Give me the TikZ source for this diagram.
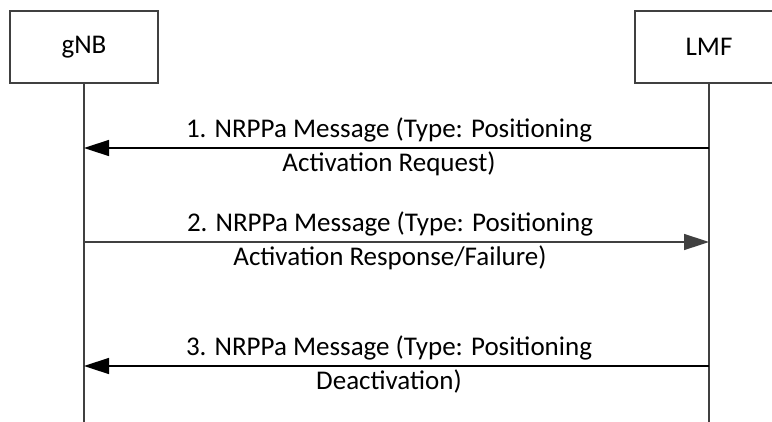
\documentclass[tikz,border=0pt]{standalone}
\usepackage{fontspec}
\setmainfont{Carlito}
\usetikzlibrary{arrows.meta, positioning}
\definecolor{lineGrey}{HTML}{404040}
\tikzset{
  entity/.style   = {draw=lineGrey, line width=1.6pt, minimum width=148pt,
                     minimum height=72pt, inner sep=0pt,
                     font=\fontsize{27}{32}\selectfont},
  lifeline/.style = {lineGrey, line width=1.5pt},
  msg/.style      = {-{Triangle[length=25pt, width=16pt]}, line width=1.5pt, black},
  msggrey/.style  = {msg, lineGrey},
  msglbl/.style   = {align=center, inner sep=0pt, anchor=north,
                     font=\fontsize{27}{34}\selectfont},
}
\begin{document}
\begin{tikzpicture}[x=1pt, y=-1pt]
  \useasboundingbox (0,0) rectangle (772,421);
  % the two parties and their lifelines
  \node[entity] (gnb) at (84,47) {gNB};
  \node[entity] (lmf) at (709,47) {LMF};
  \coordinate (gnbend) at (84,425);
  \coordinate (lmfend) at (709,425);
  \draw[lifeline] (gnb.south) -- (gnbend);
  \draw[lifeline] (lmf.south) -- (lmfend);
  % message points on the lifelines
  \coordinate (g1) at (84,148);  \coordinate (l1) at (709,148);
  \coordinate (g2) at (84,242);  \coordinate (l2) at (709,242);
  \coordinate (g3) at (84,366);  \coordinate (l3) at (709,366);
  % messages
  \draw[msg] (l1) -- (g1);
  \draw[msggrey] (g2) -- (l2);
  \draw[msg] (l3) -- (g3);
  \node[msglbl] (m1) at (389,118) {1. NRPPa Message (Type: Positioning\\Activation Request)};
  \node[msglbl] (m2) at (390,212) {2. NRPPa Message (Type: Positioning\\Activation Response/Failure)};
  \node[msglbl] (m3) at (389,336) {3. NRPPa Message (Type: Positioning\\Deactivation)};
\end{tikzpicture}
\end{document}
